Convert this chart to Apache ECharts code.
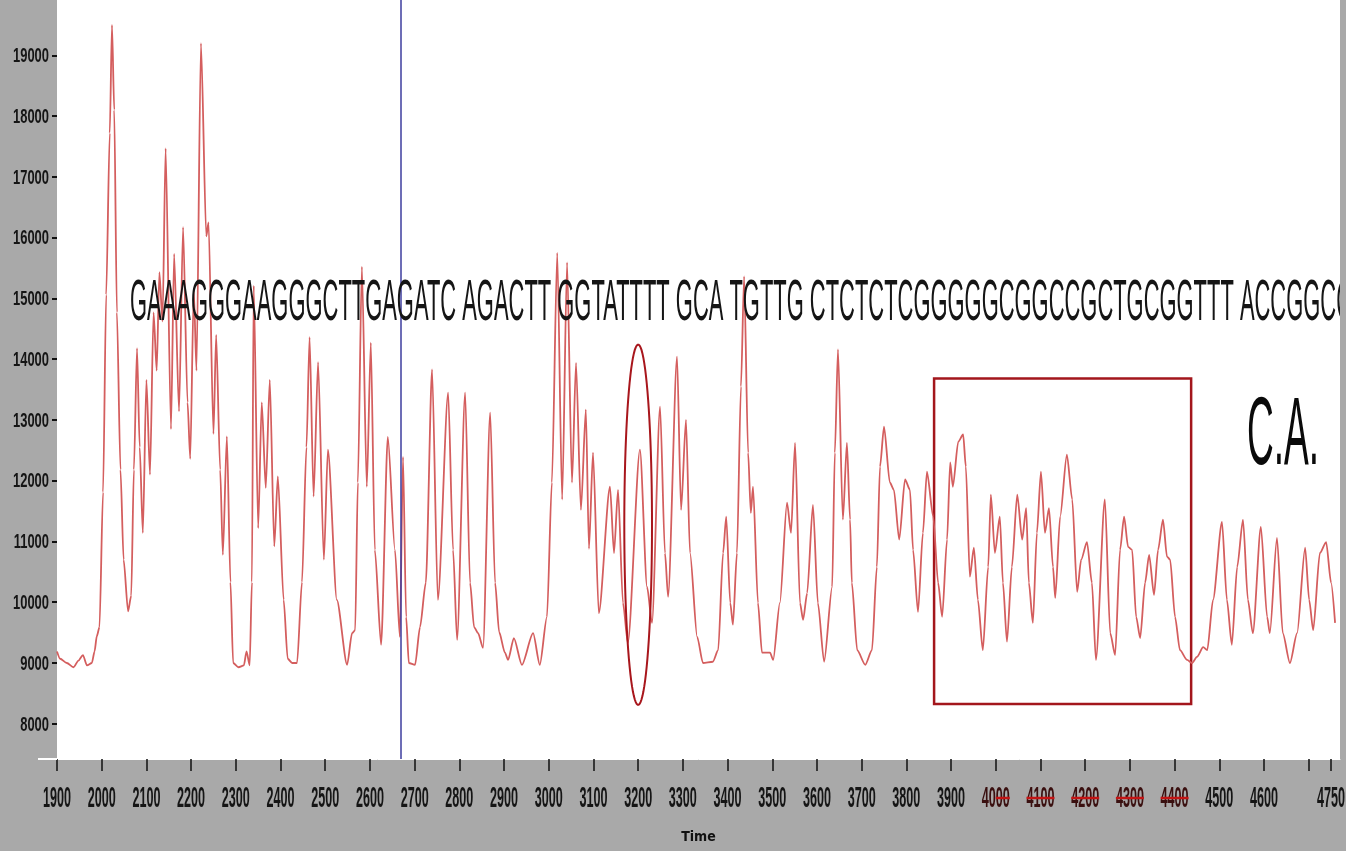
<!DOCTYPE html>
<html>
<head>
<meta charset="utf-8">
<script src="https://cdn.jsdelivr.net/npm/echarts@6/dist/echarts.min.js"></script>
<style>
html, body { margin: 0; padding: 0; background: #a9a9a9; }
#chart { width: 1346px; height: 851px; }
</style>
</head>
<body>
<div id="chart"></div>
<script>
// electropherogram trace
var timeValues = [
  1900, 1907, 1922, 1937, 1948, 1958, 1967, 1978, 1984, 1989, 1995, 2003, 2010, 2018, 2023, 2028, 2034, 2042, 2049, 2059,
  2066, 2072, 2079, 2085, 2092, 2100, 2108, 2116, 2123, 2129, 2136, 2143, 2155, 2162, 2173, 2182, 2192, 2198, 2206, 2212,
  2222, 2234, 2239, 2250, 2256, 2265, 2271, 2280, 2288, 2294, 2306, 2318, 2324, 2331, 2336, 2340, 2350, 2358, 2367, 2376,
  2386, 2394, 2407, 2416, 2426, 2437, 2448, 2458, 2465, 2474, 2484, 2497, 2506, 2526, 2549, 2560, 2567, 2573, 2582, 2593,
  2602, 2611, 2625, 2640, 2656, 2667, 2674, 2681, 2687, 2701, 2712, 2725, 2739, 2752, 2775, 2786, 2795, 2813, 2824, 2833,
  2842, 2853, 2869, 2880, 2889, 2902, 2909, 2922, 2940, 2965, 2980, 2996, 3007, 3019, 3030, 3041, 3052, 3061, 3072, 3083,
  3090, 3099, 3112, 3137, 3146, 3155, 3166, 3177, 3204, 3220, 3231, 3249, 3260, 3267, 3287, 3296, 3307, 3316, 3332, 3345,
  3367, 3379, 3390, 3397, 3406, 3412, 3421, 3430, 3437, 3446, 3452, 3457, 3468, 3477, 3495, 3502, 3517, 3533, 3542, 3551,
  3562, 3569, 3578, 3591, 3602, 3616, 3634, 3640, 3647, 3658, 3667, 3674, 3678, 3690, 3708, 3723, 3734, 3741, 3750, 3763,
  3772, 3784, 3797, 3808, 3815, 3826, 3837, 3846, 3860, 3871, 3880, 3891, 3898, 3904, 3916, 3927, 3933, 3942, 3951, 3960,
  3971, 3983, 3989, 3998, 4009, 4016, 4025, 4036, 4048, 4059, 4068, 4074, 4083, 4092, 4101, 4110, 4119, 4128, 4133, 4144,
  4159, 4171, 4182, 4191, 4204, 4215, 4224, 4244, 4256, 4267, 4278, 4287, 4296, 4305, 4314, 4323, 4334, 4343, 4354, 4363,
  4374, 4383, 4390, 4401, 4412, 4428, 4439, 4450, 4464, 4473, 4486, 4506, 4517, 4528, 4540, 4553, 4564, 4575, 4593, 4607,
  4613, 4629, 4642, 4658, 4674, 4692, 4701, 4710, 4725, 4739, 4750, 4759
];
var signalValues = [
  9190, 9070, 9000, 8930, 9040, 9130, 8960, 9000, 9190, 9440, 9590, 11810, 15060, 17720, 19500, 18100, 14770, 12180, 10700, 9850,
  10110, 12180, 14180, 12550, 11140, 13660, 12100, 14770, 13810, 15430, 14620, 17470, 12850, 15730, 13140, 16170, 13290, 12360, 15140, 13810,
  19200, 16020, 16250, 12770, 14400, 12180, 10780, 12730, 10330, 9000, 8930, 8960, 9190, 8960, 10330, 15210, 11220, 13290, 11880, 13660,
  10920, 12070, 10040, 9070, 9000, 9000, 10330, 12550, 14360, 11740, 13950, 10700, 12510, 10040, 8970, 9490, 9540, 11970, 15520, 11900,
  14270, 10860, 9300, 12720, 10860, 9430, 12390, 9760, 9000, 8970, 9590, 10320, 13830, 10040, 13450, 10860, 9380, 13450, 10320, 9590,
  9490, 9250, 13120, 10320, 9510, 9170, 9050, 9410, 8970, 9490, 8970, 9760, 11970, 15750, 11690, 15590, 11970, 13940, 11520, 13170,
  10880, 12460, 9820, 11900, 10810, 11850, 9990, 9330, 12510, 10250, 9660, 13220, 10810, 10090, 14040, 11520, 13000, 10810, 9430, 9000,
  9020, 9210, 10810, 11410, 9990, 9630, 10810, 13550, 15360, 12460, 11470, 11900, 9990, 9170, 9170, 9050, 9990, 11640, 11140, 12620,
  9990, 9710, 10150, 11600, 9990, 9020, 10250, 12460, 14160, 11360, 12620, 11360, 10320, 9210, 8970, 9210, 10580, 12230, 12890, 11970,
  11850, 11030, 12020, 11850, 10860, 9840, 11140, 12150, 11410, 10320, 9760, 11030, 12300, 11900, 12640, 12760, 12230, 10420, 10900, 10040,
  9210, 10580, 11770, 10810, 11410, 10320, 9350, 10580, 11770, 11030, 11550, 10320, 9660, 11140, 12150, 11140, 11550, 10580, 10070, 11410,
  12430, 11690, 10170, 10700, 10990, 10320, 9050, 11690, 9490, 9130, 10860, 11410, 10910, 10860, 9760, 9410, 10320, 10780, 10120, 10860,
  11360, 10750, 10700, 9760, 9210, 9050, 9000, 9100, 9260, 9210, 10040, 11320, 10040, 9300, 10580, 11360, 10040, 9490, 11240, 9760,
  9490, 11060, 9490, 9000, 9490, 10900, 10040, 9540, 10810, 10990, 10320, 9660
];
var yTickValues = [8000, 9000, 10000, 11000, 12000, 13000, 14000, 15000, 16000, 17000, 18000, 19000];
var xTickValues = [1900, 2000, 2100, 2200, 2300, 2400, 2500, 2600, 2700, 2800, 2900, 3000, 3100, 3200, 3300,
  3400, 3500, 3600, 3700, 3800, 3900, 4000, 4100, 4200, 4300, 4400, 4500, 4600, 4700, 4750];
var xLabelValues = [1900, 2000, 2100, 2200, 2300, 2400, 2500, 2600, 2700, 2800, 2900, 3000, 3100, 3200, 3300,
  3400, 3500, 3600, 3700, 3800, 3900, 4000, 4100, 4200, 4300, 4400, 4500, 4600, 4750];
var markedLabels = [4000, 4100, 4200, 4300, 4400];
var sequenceText = 'GAAAGGGAAGGGCTTGAGATC AGACTT GGTATTTT GCA TGTTG CTCTCTCGGGGGCGGCCGCTGCGGTTT ACCGGCC';
var cursorTime = 2670;
var boxCorners = [[3862, 13680], [4437, 8325]];
var ellipseCenter = [3200, 11275];
var ellipseHalf = [31, 2965];

var labelFont = 'Liberation Sans';
var tracePoints = timeValues.map(function (t, i) { return [t, signalValues[i]]; });

var chart = echarts.init(document.getElementById('chart'));

var option = {
  backgroundColor: '#a9a9a9',
  animation: false,
  grid: {
    left: 57, right: 6, top: 0, bottom: 92,
    outerBoundsMode: 'none',
    containLabel: false,
    show: true, backgroundColor: '#ffffff', borderWidth: 0
  },
  xAxis: {
    type: 'value',
    min: 1900,
    max: 4770,
    name: 'Time',
    nameLocation: 'middle',
    nameGap: 71,
    nameTextStyle: { color: '#111', fontFamily: "'DejaVu Sans Condensed', sans-serif", fontWeight: 'bold', fontSize: 14 },
    axisLine: { show: true, lineStyle: { color: '#ffffff', width: 1 } },
    axisTick: { show: true, length: 12, customValues: xTickValues, lineStyle: { color: '#111', width: 1.5 } },
    axisLabel: { show: false },
    splitLine: { show: false }
  },
  yAxis: {
    type: 'value',
    min: 7420,
    max: 19910,
    axisLine: { show: false },
    axisTick: { show: true, length: 5, customValues: yTickValues, lineStyle: { color: '#111', width: 2 } },
    axisLabel: { show: false },
    splitLine: { show: false }
  },
  series: [{
    type: 'line',
    data: tracePoints,
    showSymbol: false,
    smooth: 0.25,
    smoothMonotone: 'x',
    lineStyle: { color: '#d45e5e', width: 1.8 },
    markLine: {
      silent: true,
      symbol: ['none', 'none'],
      label: { show: false },
      lineStyle: { color: '#3d3d9e', width: 1.5, type: 'solid' },
      data: [{ xAxis: cursorTime }]
    },
    markArea: {
      silent: true,
      itemStyle: { color: 'rgba(0,0,0,0)', borderColor: '#a3161c', borderWidth: 2.5 },
      data: [[{ coord: boxCorners[0] }, { coord: boxCorners[1] }]]
    }
  }]
};
chart.setOption(option);

// narrow, tall glyphs as in the picture: text squeezed horizontally
function measure(text, font) {
  var ctx = document.createElement('canvas').getContext('2d');
  ctx.font = font;
  return ctx.measureText(text).width;
}

var graphics = [];

// tick labels placed on the axis scale
var yScale = 36 / measure('19000', 'bold 21px "' + labelFont + '"');
yTickValues.forEach(function (v) {
  var p = chart.convertToPixel({ gridIndex: 0 }, [1900, v]);
  graphics.push({
    type: 'text', silent: true, x: 49, y: p[1] + 1, scaleX: yScale,
    style: { text: String(v), fontFamily: labelFont, fontWeight: 'bold', fontSize: 21, fill: '#151515',
             align: 'right', verticalAlign: 'middle' }
  });
});
var xScale = 28 / measure('1900', 'bold 30px "' + labelFont + '"');
xLabelValues.forEach(function (v) {
  var p = chart.convertToPixel({ gridIndex: 0 }, [v, 9000]);
  var marked = markedLabels.indexOf(v) >= 0;
  graphics.push({
    type: 'text', silent: true, x: p[0], y: 799, scaleX: xScale,
    style: { text: String(v), fontFamily: labelFont, fontWeight: 'bold', fontSize: 30, fill: marked ? '#3a1010' : '#151515',
             align: 'center', verticalAlign: 'middle' }
  });
  if (marked) {
    graphics.push({
      type: 'line', silent: true, z: 12,
      shape: { x1: p[0] - (v === 4000 ? 0 : 14), y1: 798, x2: p[0] + 14, y2: 798 },
      style: { stroke: '#c41414', lineWidth: 2.5 }
    });
  }
});

// ellipse round the peak near 3200
var c = chart.convertToPixel({ gridIndex: 0 }, ellipseCenter);
var e = chart.convertToPixel({ gridIndex: 0 }, [ellipseCenter[0] + ellipseHalf[0], ellipseCenter[1] + ellipseHalf[1]]);
var rx = Math.abs(e[0] - c[0]), ry = Math.abs(e[1] - c[1]);
var ellipsePts = [];
for (var i = 0; i < 90; i++) {
  var a = i / 90 * Math.PI * 2;
  ellipsePts.push([c[0] + rx * Math.cos(a), c[1] + ry * Math.sin(a)]);
}
graphics.push({
  type: 'polygon', silent: true, z: 10,
  shape: { points: ellipsePts },
  style: { fill: 'none', stroke: '#a8161c', lineWidth: 2 }
});

var seqSize = 58;
var seqW = measure(sequenceText, seqSize + 'px "Liberation Sans"');
graphics.push({
  type: 'text', silent: true, z: 5,
  x: 130, y: 304, scaleX: 1222 / seqW,
  style: { text: sequenceText, fontFamily: 'Liberation Sans', fontSize: seqSize, fill: '#151515',
           align: 'left', verticalAlign: 'middle' }
});

var caSize = 96;
var caW = measure('C.A.', caSize + 'px "Liberation Sans"');
graphics.push({
  type: 'text', silent: true, z: 5,
  x: 1247, y: 438, scaleX: 72 / caW,
  style: { text: 'C.A.', fontFamily: 'Liberation Sans', fontSize: caSize, fill: '#0a0a0a',
           align: 'left', verticalAlign: 'middle' }
});

// grey strip on the right edge of the plot, white axis stub on the left
graphics.push({
  type: 'rect', silent: true, z: 20,
  shape: { x: 1340, y: 0, width: 6, height: 759 },
  style: { fill: '#a9a9a9' }
});
graphics.push({
  type: 'line', silent: true, z: 20,
  shape: { x1: 38, y1: 759, x2: 57, y2: 759 },
  style: { stroke: '#ffffff', lineWidth: 2 }
});

chart.setOption({ graphic: graphics });
</script>
</body>
</html>
